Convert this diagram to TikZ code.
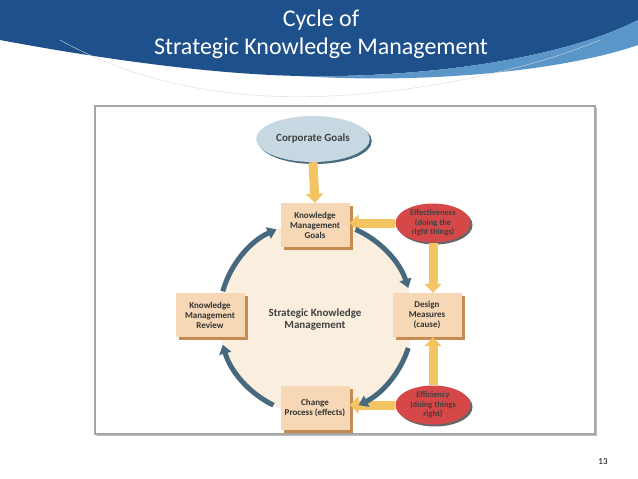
\documentclass[tikz,border=0pt]{standalone}
\usepackage{fontspec}
\setmainfont{Carlito}
\usetikzlibrary{shapes.geometric,arrows.meta,shadows}
\definecolor{hdr}{RGB}{30,80,140}
\definecolor{hdrl}{RGB}{90,150,200}
\definecolor{tan}{RGB}{246,216,182}
\definecolor{tanD}{RGB}{196,140,80}
\definecolor{cyc}{RGB}{70,105,125}
\definecolor{yel}{RGB}{242,196,98}
\definecolor{redE}{RGB}{214,72,72}
\definecolor{blueE}{RGB}{200,216,226}
\definecolor{disc}{RGB}{250,238,222}
\tikzset{
 kbox/.style={fill=tan,minimum width=69pt,minimum height=44pt,align=center,font=\fontsize{9}{10}\selectfont\bfseries,text=black!80,inner sep=1pt,
   drop shadow={shadow xshift=3pt,shadow yshift=-3pt,fill=tanD,opacity=1}},
 redell/.style={ellipse,fill=redE,minimum width=75pt,minimum height=39pt,inner sep=0pt,align=center,font=\fontsize{8.5}{9.5}\selectfont\bfseries,text=black!75,
   drop shadow={shadow xshift=2pt,shadow yshift=-2pt,fill=black!60,opacity=1}},
 yarrow/.style={-{Triangle[length=9pt,width=17pt]},line width=9pt,draw=yel},
 carrow/.style={-{Triangle[length=9pt,width=12pt]},line width=5pt,draw=cyc},
}
\begin{document}
\begin{tikzpicture}[x=1pt,y=-1pt]
\useasboundingbox (0,0) rectangle (638,479);
% header
\fill[hdr] (0,0) -- (638,0) -- (638,20) .. controls (560,60) and (420,78) .. (300,76) .. controls (200,74) and (80,55) .. (0,40) -- cycle;
\fill[hdrl] (638,20) .. controls (560,60) and (420,78) .. (300,76) .. controls (420,84) and (560,72) .. (638,45) -- cycle;
\draw[black!15] (60,40) .. controls (150,90) and (250,100) .. (330,96) .. controls (420,92) and (530,70) .. (600,40);
\node[text=white,font=\fontsize{24}{28}\selectfont,align=center] (title) at (321,34) {Cycle of\\Strategic Knowledge Management};
% frame
\node[draw=black!35,line width=1.5pt,minimum width=500pt,minimum height=328pt,fill=white,
 drop shadow={shadow xshift=2pt,shadow yshift=-2pt,fill=black!25,opacity=1}] (frame) at (345,270) {};
% disc
\fill[disc] (316,318) circle (97);
\node[font=\fontsize{11}{12}\selectfont\bfseries,text=black!75,align=center] (center) at (315,320) {Strategic Knowledge\\Management};
% nodes
\node[ellipse,fill=blueE,minimum width=105pt,minimum height=46pt,font=\fontsize{11}{12}\selectfont\bfseries,text=black!75,
 drop shadow={shadow xshift=2pt,shadow yshift=-2pt,fill=cyc,opacity=1}] (cg) at (313,139) {Corporate Goals};
\node[kbox] (kmg) at (315,225) {Knowledge\\Management\\Goals};
\node[kbox] (dm) at (427,315) {Design\\Measures\\(cause)};
\node[kbox] (kmr) at (210,315) {Knowledge\\Management\\Review};
\node[kbox] (cp) at (315,408) {Change\\Process (effects)};
\node[redell] (eff) at (433,223) {Effectiveness\\(doing the\\right things)};
\node[redell] (efc) at (433,405) {Efficiency\\(doing things\\right)};
% yellow arrows
\draw[yarrow] (cg.south) -- (kmg.north);
\draw[yarrow] (eff.west) -- (kmg.east |- eff.west);
\draw[yarrow] (eff.south) -- (dm.north -| eff.south);
\draw[yarrow] (efc.north) -- (dm.south -| efc.north);
\draw[yarrow] (efc.west) -- (cp.east |- efc.west);
% cycle arrows
\coordinate (o) at (316,318);
\draw[carrow] ([shift={(-66:97)}]o) arc[start angle=-66,end angle=-18,radius=97];
\draw[carrow] ([shift={(18:97)}]o) arc[start angle=18,end angle=64,radius=97];
\draw[carrow] ([shift={(116:97)}]o) arc[start angle=116,end angle=164,radius=97];
\draw[carrow] ([shift={(196:97)}]o) arc[start angle=196,end angle=246,radius=97];
\node[font=\fontsize{9}{10}\selectfont] (pg) at (603,462) {13};
\end{tikzpicture}
\end{document}
